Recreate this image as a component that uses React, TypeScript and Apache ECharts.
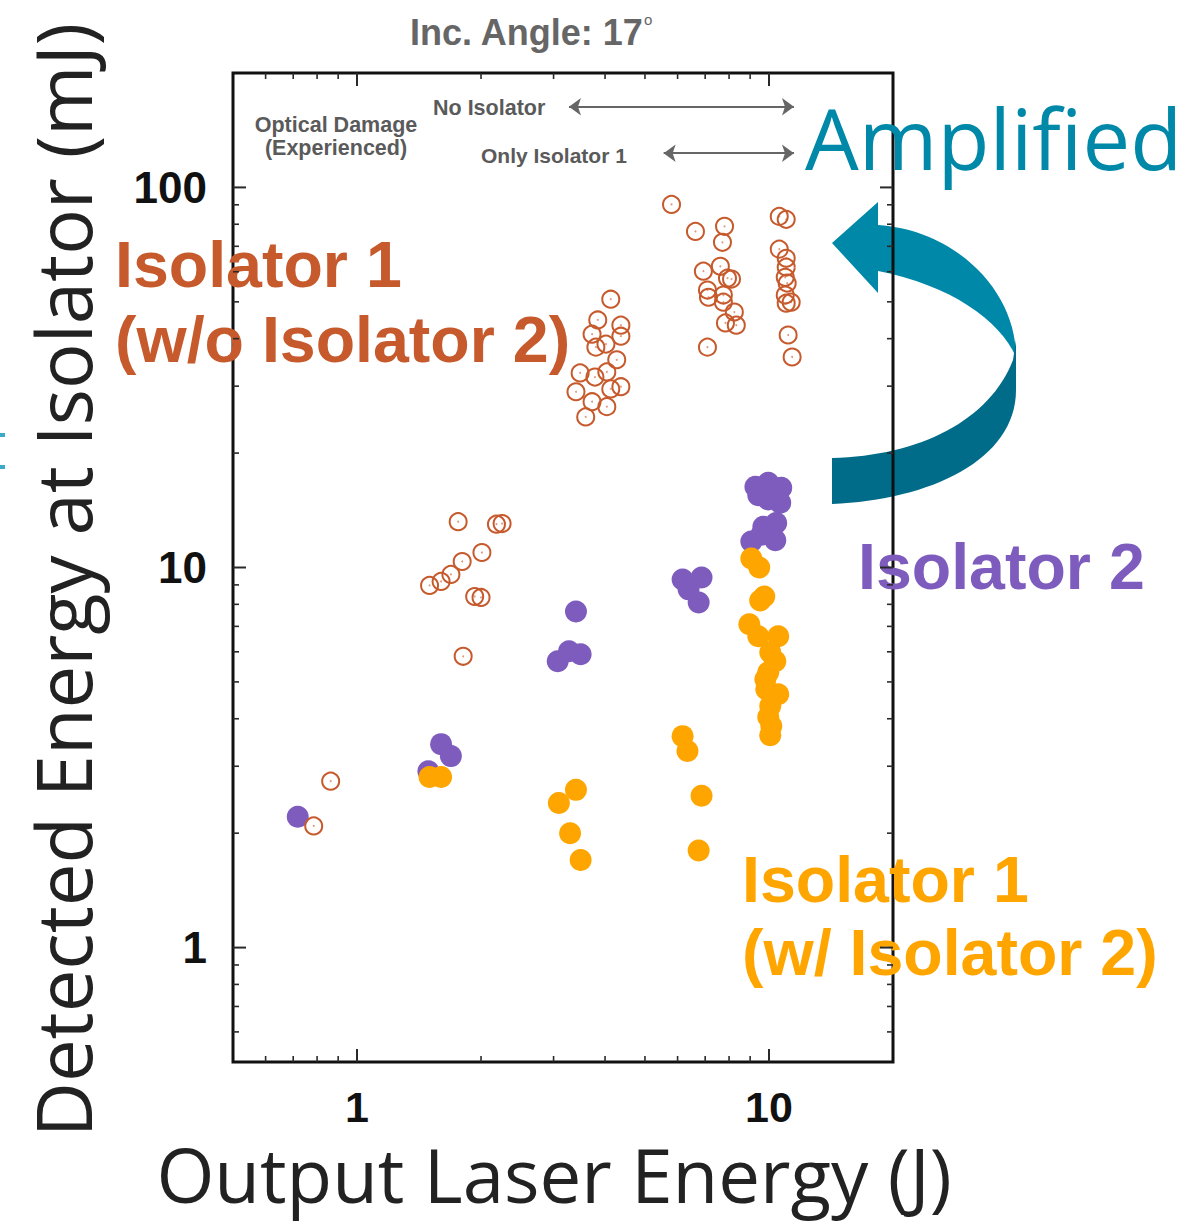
import React, { useEffect, useRef } from 'react';
import * as echarts from 'echarts';

// Axis ticks (log scales)
const xMajorTicks = [1, 10];
const xMinorTicks = [0.6, 0.7, 0.8, 0.9, 2, 3, 4, 5, 6, 7, 8, 9];
const yMajorTicks = [1, 10, 100];
const yMinorTicks = [0.6, 0.7, 0.8, 0.9, 2, 3, 4, 5, 6, 7, 8, 9, 20, 30, 40, 50, 60, 70, 80, 90];
const labelledValues = [1, 10, 100];

// Isolator 1 without Isolator 2 (open circles): [output energy J, detected energy mJ]
const iso1NoIso2: [number, number][] = [
  [5.8, 90.2], [6.63, 76.6], [7.8, 79.0], [7.71, 71.7], [6.93, 60.2], [7.62, 62.0],
  [7.93, 57.7], [8.11, 57.4], [7.09, 53.7], [7.13, 51.4], [7.75, 52.1], [7.75, 49.9],
  [8.24, 47.0], [7.84, 44.0], [8.33, 43.4], [7.09, 38.0],
  [10.59, 83.9], [11.01, 82.4], [10.59, 68.8], [11.01, 65.1], [11.01, 61.7], [10.95, 58.0],
  [11.07, 56.0], [10.95, 52.1], [11.32, 49.9], [11.01, 49.6], [11.13, 40.9], [11.38, 35.8],
  [4.13, 50.8], [3.84, 44.8], [4.37, 43.4], [3.72, 41.1], [4.37, 40.6], [4.02, 38.7],
  [3.8, 38.0], [4.27, 35.2], [3.48, 32.5], [4.04, 32.7], [3.78, 31.7], [4.37, 29.9],
  [3.4, 29.0], [4.13, 29.5], [3.72, 27.3], [4.04, 26.5], [3.59, 24.9],
  [1.76, 13.2], [2.18, 13.0], [2.25, 13.05], [2.01, 10.95], [1.8, 10.37], [1.69, 9.59],
  [1.6, 9.19], [1.5, 8.97], [1.93, 8.39], [2.0, 8.34], [1.81, 5.84],
  [0.863, 2.74], [0.785, 2.09],
];

// Isolator 2 (filled purple)
const iso2: [number, number][] = [
  [0.718, 2.21], [1.6, 3.43], [1.69, 3.19], [1.49, 2.91],
  [3.4, 7.66], [3.27, 6.02], [3.49, 5.91], [3.07, 5.67],
  [6.17, 9.3], [6.86, 9.41], [6.75, 8.09], [6.38, 8.76],
  [9.27, 16.3], [9.96, 16.7], [10.71, 16.2], [10.65, 14.8], [9.96, 15.1], [10.41, 13.1],
  [9.69, 12.8], [10.36, 11.8], [9.06, 11.7], [9.58, 12.2], [9.42, 15.5],
];

// Isolator 1 with Isolator 2 (filled orange)
const iso1WithIso2: [number, number][] = [
  [1.5, 2.81], [1.6, 2.81],
  [3.4, 2.6], [3.09, 2.4], [3.29, 2.0], [3.49, 1.7],
  [6.17, 3.6], [6.34, 3.29], [6.86, 2.51], [6.75, 1.8],
  [9.06, 10.56], [9.47, 10.0], [9.74, 8.39], [9.52, 8.19], [8.96, 7.09], [9.42, 6.59],
  [10.53, 6.59], [10.07, 5.98], [10.36, 5.67], [9.96, 5.3], [9.8, 5.08], [9.85, 4.78],
  [10.53, 4.64], [10.07, 4.32], [9.96, 4.04], [10.13, 3.83], [10.07, 3.62],
];

// Operating ranges annotated at the top of the plot
const noIsolatorRange = [3.27, 11.5];
const noIsolatorLevel = 163;
const onlyIso1Range = [5.55, 11.5];
const onlyIso1Level = 123;

const RED = '#C65A2C';
const PURPLE = '#7E5CBE';
const ORANGE = '#FFA500';
const TEAL = '#0088A9';
const TEAL_DARK = '#016C89';
const BOLD_FONT = "'Liberation Sans', Arial, Helvetica, sans-serif";
const LIGHT_FONT = "'Open Sans', 'Noto Sans', sans-serif";

// Curved "Amplified" arrow: front face and back face
echarts.graphic.registerShape(
  'ampArrowFront',
  echarts.graphic.extendPath(
    'M832 243 L878 202 L878 225 C955 230 1016 290 1016 357 C1000 320 950 285 878 271 L878 293 Z',
    {}
  )
);
echarts.graphic.registerShape(
  'ampArrowBack',
  echarts.graphic.extendPath(
    'M1016 340 L1016 390 C1016 460 930 500 832 504 L832 458 C920 456 990 420 1013 360 Z',
    {}
  )
);

function tickSeries(values: number[], axis: 'x' | 'y', len: number, width: number) {
  return {
    type: 'custom',
    silent: true,
    clip: false,
    z: 6,
    data: values.map((v) => (axis === 'x' ? [v, 1] : [1, v])),
    renderItem: (params: any, api: any) => {
      const cs = params.coordSys;
      const p = api.coord([api.value(0), api.value(1)]);
      const style = { stroke: '#2a2a2a', lineWidth: width };
      if (axis === 'x') {
        const x = p[0];
        return {
          type: 'group',
          children: [
            { type: 'line', shape: { x1: x, y1: cs.y + cs.height, x2: x, y2: cs.y + cs.height - len }, style },
            { type: 'line', shape: { x1: x, y1: cs.y, x2: x, y2: cs.y + len }, style },
          ],
        };
      }
      const y = p[1];
      return {
        type: 'group',
        children: [
          { type: 'line', shape: { x1: cs.x, y1: y, x2: cs.x + len, y2: y }, style },
          { type: 'line', shape: { x1: cs.x + cs.width, y1: y, x2: cs.x + cs.width - len, y2: y }, style },
        ],
      };
    },
  };
}

const labelFormatter = (v: number) => {
  const r = Math.round(v);
  return labelledValues.includes(r) && Math.abs(v - r) < 1e-6 ? String(r) : '';
};

export default function App() {
  const ref = useRef<HTMLDivElement>(null);

  useEffect(() => {
    document.body.style.margin = '0';
    if (!ref.current) return;
    const chart = echarts.init(ref.current, undefined, { renderer: 'svg' });

    const axisLabel = {
      formatter: labelFormatter,
      fontSize: 43,
      lineHeight: 40,
      fontWeight: 'bold',
      fontFamily: BOLD_FONT,
      color: '#111',
      margin: 25,
    };

    const annotationText = (text: string, x: number, y: number, size: number) => ({
      type: 'text',
      x,
      y,
      style: { text, verticalAlign: 'middle', fontSize: size, fontWeight: 'bold', fontFamily: BOLD_FONT, fill: '#5a5a5a' },
    });

    const bigLabel = (text: string, x: number, y: number, fill: string) => ({
      type: 'text',
      x,
      y,
      style: { text, verticalAlign: 'middle', fontSize: 64.5, fontWeight: 'bold', fontFamily: BOLD_FONT, fill },
    });

    const option: any = {
      animation: false,
      grid: {
        left: 233,
        right: 298,
        top: 73,
        bottom: 163,
        show: true,
        borderColor: '#111',
        borderWidth: 3,
        backgroundColor: 'transparent',
      },
      xAxis: {
        type: 'log',
        logBase: 10,
        min: 0.5,
        max: 20,
        axisLine: { show: false },
        axisTick: { show: false },
        splitLine: { show: false },
        axisLabel,
      },
      yAxis: {
        type: 'log',
        logBase: 10,
        min: 0.5,
        max: 200,
        axisLine: { show: false },
        axisTick: { show: false },
        splitLine: { show: false },
        axisLabel: { ...axisLabel, fontSize: 44, margin: 26 },
      },
      series: [
        tickSeries(xMajorTicks, 'x', 13, 2),
        tickSeries(xMinorTicks, 'x', 6, 1.6),
        tickSeries(yMajorTicks, 'y', 13, 2),
        tickSeries(yMinorTicks, 'y', 6, 1.6),
        {
          type: 'scatter',
          name: 'Isolator 2',
          data: iso2,
          symbol: 'circle',
          symbolSize: 22,
          itemStyle: { color: PURPLE, opacity: 1 },
          z: 2,
        },
        {
          type: 'scatter',
          name: 'Isolator 1 (w/ Isolator 2)',
          data: iso1WithIso2,
          symbol: 'circle',
          symbolSize: 22,
          itemStyle: { color: ORANGE, opacity: 1 },
          z: 3,
        },
        {
          type: 'scatter',
          name: 'Isolator 1 (w/o Isolator 2)',
          data: iso1NoIso2,
          symbol: 'circle',
          symbolSize: 17,
          itemStyle: { color: 'rgba(0,0,0,0)', borderColor: RED, borderWidth: 2, opacity: 1 },
          z: 4,
          markLine: {
            silent: true,
            symbol: ['arrow', 'arrow'],
            symbolSize: [13, 12],
            label: { show: false },
            lineStyle: { color: '#666', width: 2, type: 'solid' },
            itemStyle: { color: '#666' },
            data: [
              [{ coord: [noIsolatorRange[0], noIsolatorLevel] }, { coord: [noIsolatorRange[1], noIsolatorLevel] }],
              [{ coord: [onlyIso1Range[0], onlyIso1Level] }, { coord: [onlyIso1Range[1], onlyIso1Level] }],
            ],
          },
        },
        {
          type: 'scatter',
          data: iso1NoIso2,
          symbol: 'circle',
          symbolSize: 2,
          silent: true,
          itemStyle: { color: RED, opacity: 0.6 },
          z: 4,
        },
      ],
      graphic: [
        { type: 'ampArrowFront', x: 0, y: 0, z: -1, silent: true, style: { fill: TEAL } },
        { type: 'ampArrowBack', x: 0, y: 0, z: -1, silent: true, style: { fill: TEAL_DARK } },
        { type: 'rect', shape: { x: 0, y: 433, width: 5, height: 4 }, style: { fill: '#3DA8C8' } },
        { type: 'rect', shape: { x: 0, y: 465, width: 5, height: 4 }, style: { fill: '#3DA8C8' } },
        {
          type: 'text',
          x: 410,
          y: 32,
          style: {
            text: '{m|Inc. Angle: 17}{d|o}',
            verticalAlign: 'middle',
            rich: {
              m: { fontSize: 36, fontWeight: 'bold', fontFamily: BOLD_FONT, fill: '#666', lineHeight: 40 },
              d: { fontSize: 15, fontFamily: BOLD_FONT, fill: '#666', verticalAlign: 'top', lineHeight: 40 },
            },
          },
        },
        {
          type: 'text',
          x: 336,
          y: 136,
          style: {
            text: 'Optical Damage\n(Experienced)',
            align: 'center',
            verticalAlign: 'middle',
            fontSize: 21.5,
            lineHeight: 23,
            fontWeight: 'bold',
            fontFamily: BOLD_FONT,
            fill: '#5a5a5a',
          },
        },
        annotationText('No Isolator', 433, 108, 21.5),
        annotationText('Only Isolator 1', 481, 155, 21),
        {
          type: 'text',
          x: 805,
          y: 137,
          style: { text: 'Amplified', verticalAlign: 'middle', fontSize: 85, fontFamily: LIGHT_FONT, fill: TEAL },
        },
        bigLabel('Isolator 1', 115, 265, RED),
        bigLabel('(w/o Isolator 2)', 115, 340, RED),
        bigLabel('Isolator 2', 858, 567, PURPLE),
        bigLabel('Isolator 1', 742, 880, ORANGE),
        bigLabel('(w/ Isolator 2)', 742, 953, ORANGE),
        {
          type: 'text',
          x: 62,
          y: 580,
          rotation: Math.PI / 2,
          style: {
            text: 'Detected Energy at Isolator (mJ)',
            align: 'center',
            verticalAlign: 'middle',
            fontSize: 76,
            lineHeight: 76,
            fontFamily: LIGHT_FONT,
            fill: '#222',
          },
        },
        {
          type: 'text',
          x: 554,
          y: 1174,
          style: {
            text: 'Output Laser Energy (J)',
            align: 'center',
            verticalAlign: 'middle',
            fontSize: 74.5,
            lineHeight: 70,
            fontFamily: LIGHT_FONT,
            fill: '#222',
          },
        },
      ],
    };

    chart.setOption(option);
    return () => chart.dispose();
  }, []);

  return <div ref={ref} style={{ width: 1191, height: 1225 }} />;
}
